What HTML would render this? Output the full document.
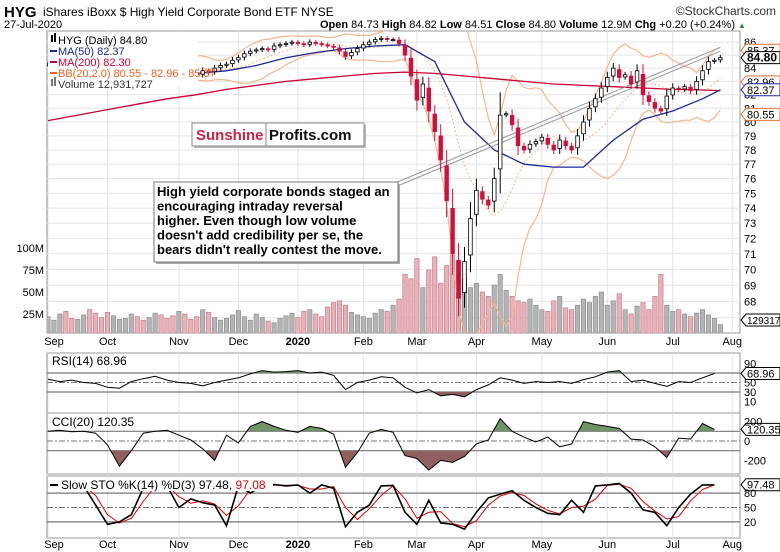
<!DOCTYPE html>
<html><head><meta charset="utf-8"><style>
body{margin:0;background:#fff;}
svg{display:block;font-family:"Liberation Sans",sans-serif;}
</style></head><body>
<svg id="c" width="780" height="552" viewBox="0 0 780 552" xmlns="http://www.w3.org/2000/svg">
<rect x="0" y="0" width="780" height="552" fill="#fff"/>
<g>
<text x="4" y="17" font-size="15" font-weight="bold">HYG</text>
<text x="43" y="16" font-size="12">iShares iBoxx $ High Yield Corporate Bond ETF  NYSE</text>
<text x="776" y="15" font-size="12" text-anchor="end" fill="#333">©StockCharts.com</text>
<text x="4" y="28" font-size="11">27-Jul-2020</text>
<text x="735" y="28" font-size="11" text-anchor="end"><tspan font-weight="bold">Open</tspan> 84.73 <tspan font-weight="bold">High</tspan> 84.82 <tspan font-weight="bold">Low</tspan> 84.51 <tspan font-weight="bold">Close</tspan> 84.80 <tspan font-weight="bold">Volume</tspan> 12.9M <tspan font-weight="bold">Chg</tspan> +0.20 (+0.24%)</text>
<text x="738" y="28" font-size="8" fill="#2a8a2a">▲</text>
</g>
<g id="main"></g>
<g id="ind"></g>
</svg>
<script>
const closes=[84.3,84.4,84.6,84.5,84.3,84.6,84.7,84.4,84.1,83.8,
83.6,83.9,84.2,84.4,84.5,84.3,84.2,84.4,84.5,84.3,
84.1,83.9,84.0,83.8,83.6,83.5,83.8,83.7,84.0,84.2,
84.3,84.6,84.8,85.1,85.3,85.4,85.5,85.4,85.7,85.8,
85.9,86.0,85.9,85.8,86.0,85.9,85.8,85.7,85.6,85.3,
84.9,85.2,85.5,85.8,86.0,86.2,86.3,86.2,86.2,85.9,
85.0,83.4,81.6,82.8,80.8,79.3,77.3,74.5,71.0,68.2,
70.5,73.3,75.2,74.6,74.2,76.0,80.5,80.6,79.8,78.3,
78.0,78.4,78.6,78.9,78.4,78.0,78.7,78.3,78.0,79.0,
80.0,81.0,81.7,82.5,83.3,84.0,83.3,83.5,82.8,83.8,
82.0,81.5,81.0,80.8,81.9,82.5,82.4,82.6,82.3,83.0,
83.8,84.5,84.6,84.8];
const volumes=[22,18,25,28,20,19,24,30,26,21,27,23,19,20,25,22,18,21,26,24,
20,23,28,25,19,22,30,27,21,18,20,24,29,22,18,25,21,17,15,20,
23,26,21,28,30,25,22,33,38,40,35,27,24,22,20,26,30,28,35,42,
70,65,88,55,75,90,60,80,92,85,65,55,60,50,45,58,70,52,45,40,
38,42,35,30,28,40,45,32,30,35,42,38,45,50,35,40,48,30,25,34,
38,30,45,70,35,28,30,25,22,26,30,24,20,13];
const ma50=[84.6,84.4,84.2,83.9,83.7,83.6,83.8,84.2,84.8,85.2,85.5,85.7,85.8,84.5,80.0,78.0,77.0,76.8,76.8,78.7,80.2,80.8,81.7,82.37];
const ma200=[80.1,80.5,80.9,81.3,81.7,82.0,82.4,82.7,83.0,83.2,83.4,83.6,83.7,83.6,83.4,83.2,83.0,82.8,82.7,82.6,82.5,82.4,82.35,82.3];
const rsi=[57,52,55,50,48,40,38,52,58,63,55,50,48,43,50,55,60,68,75,72,73,75,70,72,65,35,50,55,62,60,40,28,35,22,25,20,35,45,60,55,48,52,50,52,48,56,62,72,75,52,55,48,42,52,50,60,69];
const cci=[100,110,95,100,80,-40,-260,-100,80,100,110,60,10,-80,-200,60,-20,150,200,150,110,90,150,130,70,-270,-120,80,120,90,-150,-180,-300,-200,-220,-160,-30,10,230,100,40,-10,40,-60,-30,200,170,150,130,20,10,-60,-170,30,20,180,120];
const stoK=[90,95,98,95,55,15,20,35,90,98,95,50,68,60,55,12,95,80,95,98,95,97,80,97,90,10,40,55,95,96,40,15,65,18,15,5,40,70,78,85,65,50,38,35,65,40,95,97,100,80,45,40,12,50,78,97,97];
const priceTicks=[67,68,69,70,71,72,73,74,75,76,77,78,79,80,81,82,83,84,85,86];
const volTicks=[25,50,75,100];
const months=["Sep","Oct","Nov","Dec","2020","Feb","Mar","Apr","May","Jun","Jul","Aug"];
const monthIdx=[0,10,22,32,42,53,62,72,83,94,105,115];

const NS="http://www.w3.org/2000/svg";
const L=47,R=740,TOP=31,BOT=333;
function xOf(i){return 48+i*5.95;}
function yP(p){return 122-1104*Math.log(p/80);}
function yV(v){return 336-v*0.88;}
function mk(tag,attrs,parent){const e=document.createElementNS(NS,tag);for(const k in attrs)e.setAttribute(k,attrs[k]);parent.appendChild(e);return e;}
const main=document.getElementById('main');
const ind=document.getElementById('ind');

let fr=mk('rect',{x:L,y:TOP,width:R-L,height:BOT-TOP,fill:'#fff',stroke:'#999'},main);


const grid=mk('g',{stroke:'#e4e4e4','stroke-width':1},main);


priceTicks.forEach(p=>{mk('line',{x1:L,x2:R,y1:yP(p),y2:yP(p)},grid);});
monthIdx.forEach(i=>{mk('line',{x1:xOf(i),x2:xOf(i),y1:TOP,y2:BOT},grid);});
const clip=mk('clipPath',{id:'mclip'},main);
mk('rect',{x:L,y:TOP,width:R-L,height:BOT-TOP},clip);
const plot=mk('g',{'clip-path':'url(#mclip)'},main);



closes.forEach((c,i)=>{
 const up=i===0||c>=closes[i-1];
 const v=volumes[i];
 const b=mk('rect',{x:xOf(i)-2.2,y:yV(v),width:4.4,height:336-yV(v),fill:up?'#b4b4b4':'#eab0b8',stroke:up?'#888':'#c07080','stroke-width':0.6},plot);
 
 
});
const N=10,bu=[],bl=[],bm=[];
for(let i=N-1;i<closes.length;i++){
 const s=closes.slice(i-N+1,i+1);const m=s.reduce((a,b)=>a+b)/N;
 const sd=Math.sqrt(s.reduce((a,b)=>a+(b-m)*(b-m),0)/N);
 bu.push([xOf(i),yP(m+2*sd+0.3)]);bl.push([xOf(i),yP(m-2*sd-0.3)]);bm.push([xOf(i),yP(m)]);
}
function pl(pts,attrs,name){const e=mk('polyline',Object.assign({points:pts.map(p=>p[0].toFixed(1)+','+p[1].toFixed(1)).join(' '),fill:'none'},attrs),plot);return e;}
pl(bu,{stroke:'#f5b690','stroke-width':1.2},'bollinger-upper');
pl(bl,{stroke:'#f5b690','stroke-width':1.2},'bollinger-lower');
pl(bm,{stroke:'#f5b690','stroke-width':1,'stroke-dasharray':'2,2'},'bollinger-middle');
function maPts(a){return a.map((v,k)=>[xOf(Math.min(k*5,113)),yP(v)]);}
pl(maPts(ma200),{stroke:'#cc0033','stroke-width':1.3},'ma200-line');
pl(maPts(ma50),{stroke:'#1a2a9a','stroke-width':1.3},'ma50-line');
const tl1=mk('line',{x1:395,y1:183,x2:xOf(113),y2:yP(85.6),stroke:'#999','stroke-width':1},plot);

const tl2=mk('line',{x1:395,y1:187,x2:xOf(113),y2:yP(85.3),stroke:'#999','stroke-width':1},plot);

closes.forEach((c,i)=>{
 const o=i===0?c:closes[i-1]+(c-closes[i-1])*0.15;
 const rg=Math.abs(c-o)*0.4+0.15;
 const hi=Math.max(o,c)+rg,lo=Math.min(o,c)-rg;
 const up=c>=o;const col=up?'#000':'#d0103a';
 const g=mk('g',{},plot);
 
 
 mk('line',{x1:xOf(i),x2:xOf(i),y1:yP(hi),y2:yP(lo),stroke:col,'stroke-width':1},g);
 const y1=yP(Math.max(o,c)),y2=yP(Math.min(o,c));
 mk('rect',{x:xOf(i)-1.8,y:y1,width:3.6,height:Math.max(1,y2-y1),fill:up?'#fff':col,stroke:col,'stroke-width':0.8},g);
});
const ax=mk('g',{'font-size':11},main);


priceTicks.forEach(p=>{const t=mk('text',{x:744,y:yP(p)+4},ax);t.textContent=p;});
volTicks.forEach(v=>{const t=mk('text',{x:44,y:yV(v)+4,'text-anchor':'end','font-size':11},main);t.textContent=v+'M';});
function tag(val,txt,col,bold,name,yy,fs){
 const y=yy!==undefined?yy:yP(val);
 const g=mk('g',{},main);
 mk('path',{d:`M741 ${y} L746 ${y-6} L780 ${y-6} L780 ${y+6} L746 ${y+6} Z`,fill:'#fff',stroke:col},g);
 const t=mk('text',{x:747,y:y+4,'font-size':fs||(bold?12:11),'font-weight':bold?'bold':'normal',fill:'#000'},g);t.textContent=txt;
}
tag(85.37,'85.37','#f07030',false,'bb-upper-tag');
tag(82.96,'82.96','#f07030',false,'bb-middle-tag');
tag(80.55,'80.55','#f07030',false,'bb-lower-tag');
tag(82.37,'82.37','#1a2a9a',false,'ma50-tag');
tag(84.80,'84.80','#000',true,'last-price-tag');
tag(0,'12931727','#000',false,'volume-tag',320,10);
const lg=mk('g',{'font-size':11},main);

mk('rect',{x:48,y:32,width:150,height:54,fill:'#fff'},lg);
[['HYG (Daily) 84.80','#000'],['MA(50) 82.37','#1a2a9a'],['MA(200) 82.30','#cc0033'],['BB(20,2.0) 80.55 - 82.96 - 85.37','#f06020'],['Volume 12,931,727','#333']].forEach((e,k)=>{
 const g=mk('g',{},lg);
 const y=40+k*11;
 if(k===0||k===4){mk('rect',{x:51,y:y-5,width:2,height:7,fill:k?'#777':'#000'},g);mk('rect',{x:54,y:y-7,width:2,height:9,fill:k?'#777':'#000'},g);}
 else mk('rect',{x:50,y:y-1,width:7,height:2,fill:e[1]},g);
 const t=mk('text',{x:58,y:y+4,fill:e[1]},g);t.textContent=e[0];
});
const lo=mk('g',{},main);
mk('rect',{x:194,y:125,width:172,height:23,fill:'#bbb'},lo);
mk('rect',{x:192,y:123,width:172,height:23,fill:'#fff',stroke:'#888'},lo);
mk('line',{x1:266,y1:123,x2:266,y2:146,stroke:'#888'},lo);
let t=mk('text',{x:196,y:140,'font-size':15,'font-weight':'bold',fill:'#cc2244'},lo);t.textContent='Sunshine';
t=mk('text',{x:269,y:140,'font-size':15,'font-weight':'bold',fill:'#111'},lo);t.textContent='Profits.com';
const an=mk('g',{'font-size':13,'font-weight':'bold'},main);
mk('rect',{x:156,y:184,width:244,height:80,fill:'#aaa'},an);
mk('rect',{x:154,y:182,width:244,height:80,fill:'#fff',stroke:'#777'},an);
["High yield corporate bonds staged an","encouraging intraday reversal","higher. Even though low volume","doesn't add credibility per se, the","bears didn't really contest the move."].forEach((s,k)=>{const tt=mk('text',{x:157,y:196+k*14.5},an);tt.textContent=s;});
function monthRow(y,name){const g=mk('g',{'font-size':11,'text-anchor':'middle'},ind);
 months.forEach((m,k)=>{const tt=mk('text',{x:xOf(monthIdx[k])+(k===0?6:0),y:y,'font-weight':m==='2020'?'bold':'normal'},g);tt.textContent=m;});}
monthRow(345,'x-axis-months-top');
monthRow(548,'x-axis-months-bottom');

function panel(top,bot,yf,lines,dashed,labels,name){
 const g=mk('g',{},ind);
 mk('rect',{x:L,y:top,width:R-L,height:bot-top,fill:'#fff',stroke:'#999'},g);
 monthIdx.forEach(i=>mk('line',{x1:xOf(i),x2:xOf(i),y1:top,y2:bot,stroke:'#e4e4e4'},g));
 lines.forEach(v=>mk('line',{x1:L,x2:R,y1:yf(v),y2:yf(v),stroke:'#777','stroke-width':1.2},g));
 mk('line',{x1:L,x2:R,y1:yf(dashed),y2:yf(dashed),stroke:'#777','stroke-dasharray':'6,2,2,2'},g);
 labels.forEach(v=>{const tt=mk('text',{x:744,y:yf(v)+4,'font-size':11},g);tt.textContent=v;});
 return g;
}
function ix(k){return xOf(k*2);}
function filled(g,arr,yf,lvl,above,col,id){
 const cp=mk('clipPath',{id:id},g);
 const ly=yf(lvl);
 mk('rect',above?{x:L,y:0,width:R-L,height:ly}:{x:L,y:ly,width:R-L,height:600},cp);
 const pts=arr.map((v,k)=>ix(k).toFixed(1)+','+yf(v).toFixed(1));
 const p=mk('polygon',{points:ix(0)+','+ly+' '+pts.join(' ')+' '+ix(arr.length-1)+','+ly,fill:col,'clip-path':`url(#${id})`},g);
 
}
function line(g,arr,yf,col,w,name){const p=mk('polyline',{points:arr.map((v,k)=>ix(k).toFixed(1)+','+yf(v).toFixed(1)).join(' '),fill:'none',stroke:col,'stroke-width':w},g);}
function title(g,x,y,txt,extra){const tt=mk('text',{x:x,y:y,'font-size':12},g);tt.textContent=txt;if(extra){const s=mk('tspan',{fill:'#e00000'},tt);s.textContent=extra;}}

const yR=v=>392-(v-30)*0.475;
let g=panel(353,413,yR,[70,30],50,[90,50,30,10],'rsi-panel');
filled(g,rsi,yR,70,true,'#6f9468','rf1');filled(g,rsi,yR,30,false,'#906060','rf2');
line(g,rsi,yR,'#000',1,'rsi-line');
mk('rect',{x:48,y:354,width:100,height:13,fill:'#fff'},g);
title(g,52,365,'RSI(14) 68.96');
tag(0,'68.96','#000',false,'rsi-tag',yR(68.96));

const yC=v=>441-v*0.097;
g=panel(413,474,yC,[100,-100],0,[200,0,-200],'cci-panel');
filled(g,cci,yC,100,true,'#6f9468','cf1');filled(g,cci,yC,-100,false,'#906060','cf2');
line(g,cci,yC,'#000',1,'cci-line');
mk('rect',{x:48,y:415,width:105,height:13,fill:'#fff'},g);
title(g,52,426,'CCI(20) 120.35');
tag(0,'120.35','#000',false,'cci-tag',yC(120.35));

const yS=v=>531.5-v*0.48;
g=panel(476,538,yS,[80,20],50,[80,50,20],'stochastic-panel');
const stoD=stoK.map((v,k)=>{const s=stoK.slice(Math.max(0,k-1),k+1);return s.reduce((a,b)=>a+b)/s.length;});
line(g,stoD,yS,'#e00000',1,'sto-d-line');
line(g,stoK,yS,'#000',1.6,'sto-k-line');
mk('rect',{x:48,y:478,width:225,height:13,fill:'#fff'},g);
mk('rect',{x:50,y:484,width:8,height:2,fill:'#000'},g);
title(g,61,489,'Slow STO %K(14) %D(3) 97.48, ','97.08');
tag(0,'97.48','#000',false,'sto-tag',yS(97.48));
</script>
</body></html>
